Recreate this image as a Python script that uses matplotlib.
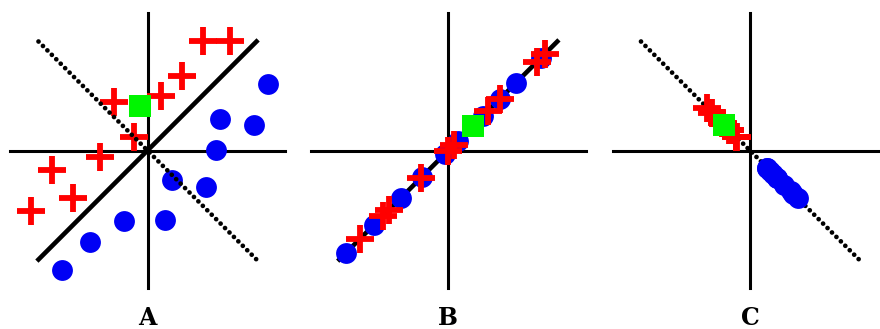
import matplotlib.pyplot as plt

# panel A: the raw points (units of the drawing, origin at the axes cross)
red_x = [5.5, 8.25, 3.4, 1.35, -3.4, -1.4, -4.8, -9.6, -7.5, -11.65]
red_y = [11.0, 11.0, 7.5, 5.45, 4.9, 1.4, -0.6, -1.95, -4.7, -6.05]
blue_x = [12.0, 7.2, 10.65, 6.85, 2.4, 5.8, -2.35, 1.7, -5.8, -8.55]
blue_y = [6.65, 3.2, 2.55, 0.05, -2.95, -3.6, -7.0, -6.95, -9.1, -11.9]
green_x = [-0.75]
green_y = [4.45]

# panel B: positions along the line y = x
red_b = [-8.8, -6.5, -5.9, -2.7, 0.0, 0.6, 4.0, 5.2, 8.9, 9.7]
blue_b = [-10.2, -7.4, -4.7, -2.6, -0.3, 1.0, 3.5, 5.2, 6.8, 9.3]
green_b = [2.5]

# panel C: positions along the line y = -x
red_c = [-2.75, -1.4, -2.05, -2.05, -4.3, -1.35, -2.1, -3.8, -1.4, -2.8]
blue_c = [2.7, 2.0, 4.05, 3.4, 2.7, 4.75, 2.3, 4.3, 1.7, 1.7]
green_c = [-2.6]

labels = ['A', 'B', 'C']

W, H = 880, 329
fig = plt.figure(figsize=(W / 100, H / 100), dpi=100)
centers = [147.5, 448.3, 750.0]

axis_len = 13.75
diag_len = 10.9


def make_ax(cx):
    ax = fig.add_axes([(cx - 145) / W, 28 / H, 290 / W, 301 / H])
    ax.set_xlim(-14.5, 14.5)
    ax.set_ylim(-15.05, 15.05)
    ax.axis('off')
    ax.plot([-axis_len, axis_len], [0, 0], color='black', lw=2.2, zorder=1)
    ax.plot([0, 0], [-axis_len, axis_len], color='black', lw=2.2, zorder=1)
    return ax


def solid_diag(ax, z):
    ax.plot([-diag_len, diag_len], [-diag_len, diag_len], color='black',
            lw=3.3, zorder=z)


def dotted_diag(ax, z):
    ax.plot([-diag_len, diag_len], [diag_len, -diag_len], color='black',
            lw=3.4, linestyle=(0, (0.01, 1.32)), dash_capstyle='round', zorder=z)


def points(ax, rx, ry, bx, by, gx, gy):
    ax.plot(bx, by, 'o', color='#0000f5', ms=15, mew=0, zorder=2)
    ax.plot(rx, ry, '+', color='#ff0000', ms=20, mew=4.2, zorder=3)
    ax.plot(gx, gy, 's', color='#00f500', ms=15.3, mew=0, zorder=5)


# A
ax = make_ax(centers[0])
points(ax, red_x, red_y, blue_x, blue_y, green_x, green_y)
solid_diag(ax, 4)
dotted_diag(ax, 4)

# B
ax = make_ax(centers[1])
solid_diag(ax, 1.5)
points(ax, red_b, red_b, blue_b, blue_b, green_b, green_b)

# C
ax = make_ax(centers[2])
dotted_diag(ax, 1.5)
points(ax, red_c, [-v for v in red_c], blue_c, [-v for v in blue_c],
       green_c, [-v for v in green_c])

for cx, lab in zip(centers, labels):
    fig.text(cx / W, 4 / H, lab, ha='center', va='baseline', fontsize=17,
             fontweight='bold', family='DejaVu Serif')

fig.savefig('out.png', dpi=100)
